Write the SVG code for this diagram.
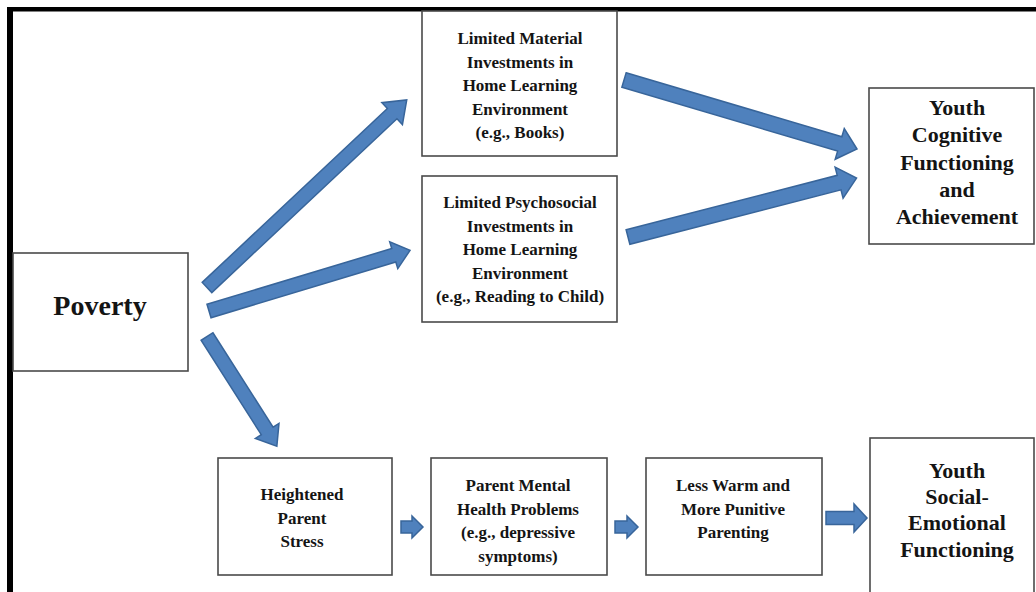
<svg xmlns="http://www.w3.org/2000/svg" width="1036" height="592" viewBox="0 0 1036 592">
<style>
.box{fill:#ffffff;stroke:#4a4a4a;stroke-width:1.6}
.t{font-family:"Liberation Serif","Times New Roman",serif;font-weight:bold;fill:#141414;text-anchor:middle}
.s17{font-size:17px}
.s22{font-size:22px}
.s28{font-size:28px}
.arr{fill:#4f81bd;stroke:#38659a;stroke-width:1.5;stroke-linejoin:miter}
</style>
<rect x="0" y="0" width="1036" height="592" fill="#ffffff"/>
<g id="frame">
<rect x="7" y="7" width="6" height="585" fill="#000000"/>
<rect x="7" y="7" width="1029" height="4.5" fill="#000000"/>
</g>
<g id="connectors">
<polygon class="arr" transform="translate(207,287.5) rotate(-43.2)" points="0,-7 254,-7 254,-15 274,0 254,15 254,7 0,7"/>
<polygon class="arr" transform="translate(209,311) rotate(-16.8)" points="0,-7 193,-7 193,-14 210,0 193,14 193,7 0,7"/>
<polygon class="arr" transform="translate(207,336.5) rotate(57.5)" points="0,-7 112,-7 112,-14 130,0 112,14 112,7 0,7"/>
<polygon class="arr" transform="translate(624,80) rotate(16.5)" points="0,-7.5 225,-7.5 225,-16 243,0 225,16 225,7.5 0,7.5"/>
<polygon class="arr" transform="translate(628,237) rotate(-14.45)" points="0,-7.5 218,-7.5 218,-16 236,0 218,16 218,7.5 0,7.5"/>
<polygon class="arr" points="401,521 412,521 412,516 423,527 412,538 412,533 401,533"/>
<polygon class="arr" points="615,521 627,521 627,516 638,527 627,538 627,533 615,533"/>
<polygon class="arr" points="826,511.5 854,511.5 854,504 867,518 854,532 854,524.5 826,524.5"/>
</g>
<g id="poverty">
<rect class="box" x="13" y="253" width="175" height="118"/>
<text class="t s28" x="100" y="315">Poverty</text>
</g>
<g id="material">
<rect class="box" x="422" y="11" width="195" height="145"/>
<text class="t s17" x="520"><tspan x="520" y="44">Limited Material</tspan><tspan x="520" y="67.5">Investments in</tspan><tspan x="520" y="91">Home Learning</tspan><tspan x="520" y="114.5">Environment</tspan><tspan x="520" y="138">(e.g., Books)</tspan></text>
</g>
<g id="psychosocial">
<rect class="box" x="422" y="176" width="195" height="146"/>
<text class="t s17" x="520"><tspan x="520" y="208">Limited Psychosocial</tspan><tspan x="520" y="232">Investments in</tspan><tspan x="520" y="255">Home Learning</tspan><tspan x="520" y="278.5">Environment</tspan><tspan x="520" y="302">(e.g., Reading to Child)</tspan></text>
</g>
<g id="cognitive">
<rect class="box" x="869" y="88" width="165" height="156"/>
<text class="t s22" x="957"><tspan x="957" y="115">Youth</tspan><tspan x="957" y="142">Cognitive</tspan><tspan x="957" y="170">Functioning</tspan><tspan x="957" y="197">and</tspan><tspan x="957" y="224">Achievement</tspan></text>
</g>
<g id="stress">
<rect class="box" x="218" y="458" width="174" height="117"/>
<text class="t s17" x="302"><tspan x="302" y="500">Heightened</tspan><tspan x="302" y="524">Parent</tspan><tspan x="302" y="547">Stress</tspan></text>
</g>
<g id="mental">
<rect class="box" x="431" y="458" width="176" height="117"/>
<text class="t s17" x="518"><tspan x="518" y="491">Parent Mental</tspan><tspan x="518" y="515">Health Problems</tspan><tspan x="518" y="538">(e.g., depressive</tspan><tspan x="518" y="562">symptoms)</tspan></text>
</g>
<g id="parenting">
<rect class="box" x="646" y="458" width="176" height="117"/>
<text class="t s17" x="733"><tspan x="733" y="491">Less Warm and</tspan><tspan x="733" y="515">More Punitive</tspan><tspan x="733" y="538">Parenting</tspan></text>
</g>
<g id="social">
<rect class="box" x="870" y="438" width="164" height="160"/>
<text class="t s22" x="957"><tspan x="957" y="478">Youth</tspan><tspan x="957" y="504">Social-</tspan><tspan x="957" y="530">Emotional</tspan><tspan x="957" y="557">Functioning</tspan></text>
</g>
</svg>
